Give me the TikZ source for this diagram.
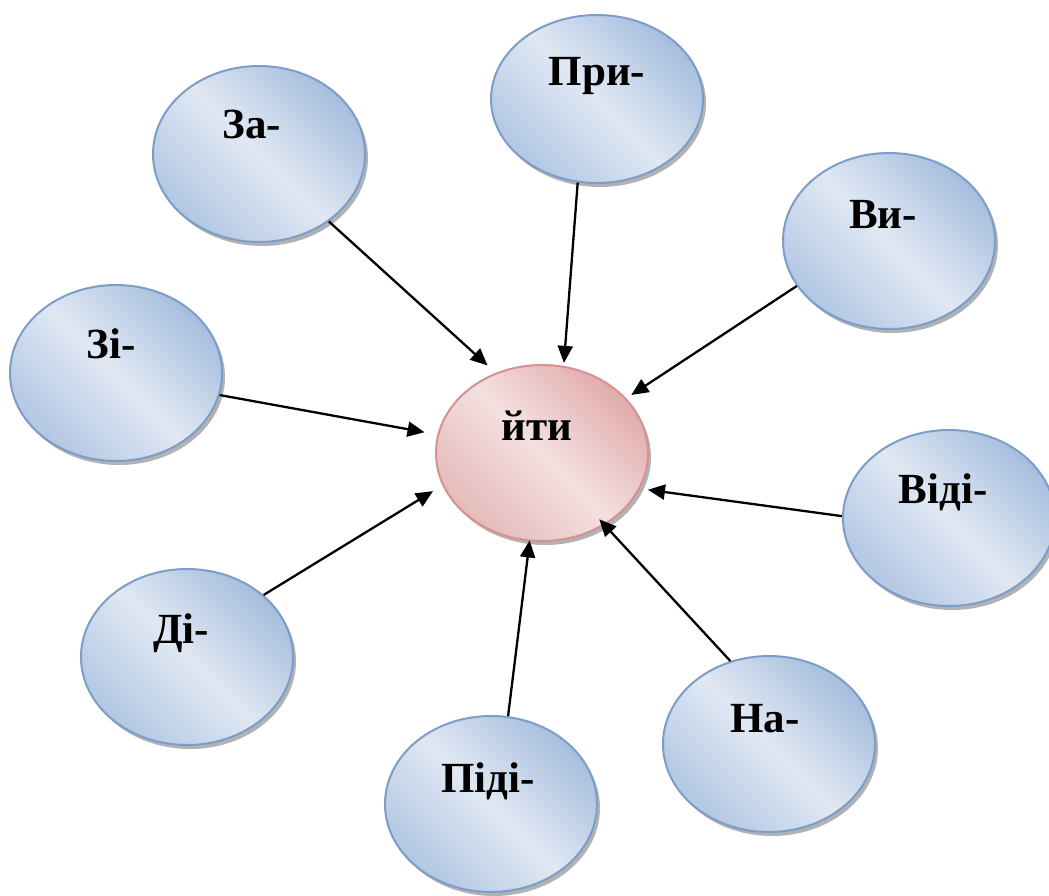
\documentclass[tikz,border=0pt]{standalone}
\usepackage{fontspec}
\setmainfont{Liberation Serif}
\usetikzlibrary{shapes.geometric,shadows,arrows.meta}
\definecolor{blueline}{HTML}{7C9DC8}
\definecolor{bluedark}{HTML}{A6BEDE}
\definecolor{bluemid}{HTML}{B2C7E3}
\definecolor{bluelight}{HTML}{E0E8F3}
\definecolor{pinkline}{HTML}{D69190}
\definecolor{pinkdark}{HTML}{E0ACAB}
\definecolor{pinkmid}{HTML}{E4BBBA}
\definecolor{pinklight}{HTML}{F4E0E0}
\tikzset{
  bubble/.style={ellipse, draw=blueline, line width=2pt,
    minimum width=212pt, minimum height=176pt,
    top color=bluedark, bottom color=bluemid, middle color=bluelight,
    shading angle=-45,
    drop shadow={shadow xshift=3pt, shadow yshift=-4pt, fill=black!60, opacity=.5}},
  rootbubble/.style={bubble, draw=pinkline,
    top color=pinkdark, bottom color=pinkmid, middle color=pinklight,
    shading angle=-45},
  lbl/.style={anchor=base, inner sep=0pt, font=\bfseries\fontsize{43}{50}\selectfont},
  arr/.style={line width=2.3pt, -{Triangle[length=17pt,width=15pt]}}
}
\begin{document}
\begin{tikzpicture}[x=1pt,y=-1pt]
  \useasboundingbox (0,0) rectangle (1049,895);
  % bubbles
  \node[rootbubble] (yty) at (542,453) {};
  \node[bubble] (za) at (259,154) {};
  \node[bubble, minimum height=168pt] (pry) at (597,99) {};
  \node[bubble] (vy) at (889,241) {};
  \node[bubble] (zi) at (116,373) {};
  \node[bubble] (vidi) at (949,518) {};
  \node[bubble] (na) at (769,744) {};
  \node[bubble] (pidi) at (491,804) {};
  \node[bubble] (di) at (187,657) {};
  % texts
  \foreach \n/\t/\dx/\dy in {yty/йти/-5/-13, za/За-/-7/-16, pry/При-/0/-14,
      vy/Ви-/-6/-13, zi/Зі-/-5/-15, vidi/Віді-/-6/-15, na/На-/-4/-12,
      pidi/Піді-/-3/-12, di/Ді-/-6/-14}
    \node[lbl] (\n-t) at ([shift={(\dx,\dy)}]\n.center) {\t};
  % arrows
  \foreach \src/\a/\b/\s in {za/-44/120/11pt, pry/-103/76/3pt, vy/206/33/6pt,
      zi/-12.5/170/13pt, vidi/179.5/-20/8pt, na/115.5/-49/-8pt,
      pidi/79.5/-98/-1pt, di/39.5/198.6/11pt}
    \draw[arr, shorten >=\s] (\src.\a) -- (yty.\b);
\end{tikzpicture}
\end{document}
